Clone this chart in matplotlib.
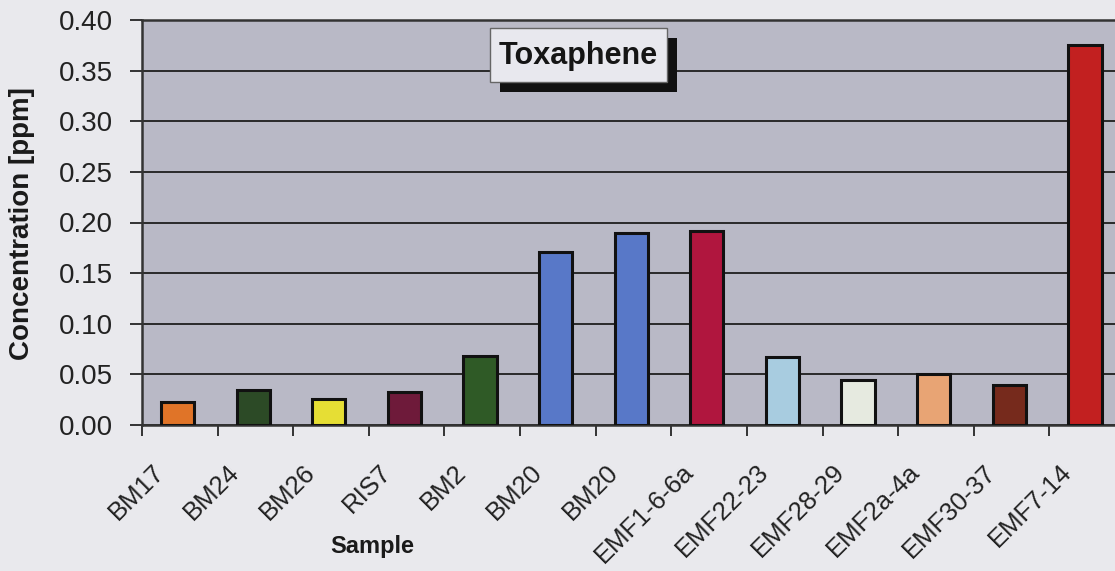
import matplotlib
matplotlib.use("Agg")
import matplotlib.pyplot as plt
import matplotlib.transforms as mtransforms
import numpy as np

samples = ["BM17", "BM24", "BM26", "RIS7", "BM2", "BM20", "BM20", "EMF1-6-6a",
           "EMF22-23", "EMF28-29", "EMF2a-4a", "EMF30-37", "EMF7-14"]
values = [0.023, 0.035, 0.026, 0.033, 0.068, 0.171, 0.190, 0.192,
          0.067, 0.044, 0.050, 0.040, 0.375]
colors = ["#E07428", "#2C4A26", "#E6DE34", "#6E1A3A", "#2F5A26", "#5878C8", "#5878C8",
          "#B0163E", "#A8CCE0", "#E6EAE0", "#E8A474", "#762A1C", "#C22020"]
yticks = [0.00, 0.05, 0.10, 0.15, 0.20, 0.25, 0.30, 0.35, 0.40]

plt.rcParams['font.family'] = ['Liberation Sans', 'DejaVu Sans']

fig = plt.figure(figsize=(11.15, 5.71), dpi=100)
fig.patch.set_facecolor("#E9E9ED")
ax = fig.add_axes([142/1115, 146/571, 983/1115, 405/571])
ax.set_facecolor("#B9B9C6")

x = np.arange(len(samples))
ax.bar(x - 0.03, values, width=0.44, color=colors, edgecolor="#111111", linewidth=2.2, zorder=3)

ax.set_xlim(-0.5, len(samples) - 0.5)
ax.set_ylim(0, 0.40)
ax.set_yticks(yticks)
ax.set_yticklabels([f"{v:.2f}" for v in yticks], fontsize=20, color="#222222")
ax.yaxis.grid(True, color="#2a2a2a", linewidth=1.4, zorder=1)
ax.set_axisbelow(True)
ax.tick_params(axis='y', length=9, width=1.4, color="#333333", pad=12)

ax.set_xticks(x)
ax.set_xticklabels(samples, rotation=45, ha='right', va='top',
                   rotation_mode='anchor', fontsize=18.5, color="#222222")
ax.tick_params(axis='x', which='major', length=0, pad=0)
ax.set_xticks(np.arange(-0.5, len(samples), 1.0), minor=True)
ax.tick_params(axis='x', which='minor', length=8, width=1.4, color="#333333")
offset = mtransforms.ScaledTranslation(-28/100, -35/100, fig.dpi_scale_trans)
for lbl in ax.get_xticklabels():
    lbl.set_transform(lbl.get_transform() + offset)

for s in ["left", "bottom", "top"]:
    ax.spines[s].set_color("#333333")
    ax.spines[s].set_linewidth(1.8)
ax.spines["right"].set_visible(False)

fig.text(22/1115, 1 - 224/571, "Concentration [ppm]", rotation=90, fontsize=20,
         fontweight='bold', ha='center', va='center', color="#1a1a1a")
fig.text(372/1115, 1 - 547/571, "Sample", fontsize=17, fontweight='bold',
         ha='center', va='center', color="#1a1a1a")

# title box with shadow
bx0, by0, bw, bh = 490, 28, 177, 54
shadow = plt.Rectangle(((bx0 + 10) / 1115, 1 - (by0 + bh + 10) / 571), bw / 1115, bh / 571,
                       transform=fig.transFigure, facecolor="#111111", edgecolor="none", zorder=5)
box = plt.Rectangle((bx0 / 1115, 1 - (by0 + bh) / 571), bw / 1115, bh / 571,
                    transform=fig.transFigure, facecolor="#E8E8EE", edgecolor="#666666",
                    linewidth=1, zorder=6)
fig.add_artist(shadow)
fig.add_artist(box)
fig.text((bx0 + bw / 2) / 1115, 1 - (by0 + bh / 2 + 1) / 571, "Toxaphene", fontsize=22,
         fontweight='bold', ha='center', va='center', zorder=7, color="#151515")

fig.savefig("out.png", dpi=100, facecolor=fig.get_facecolor())
